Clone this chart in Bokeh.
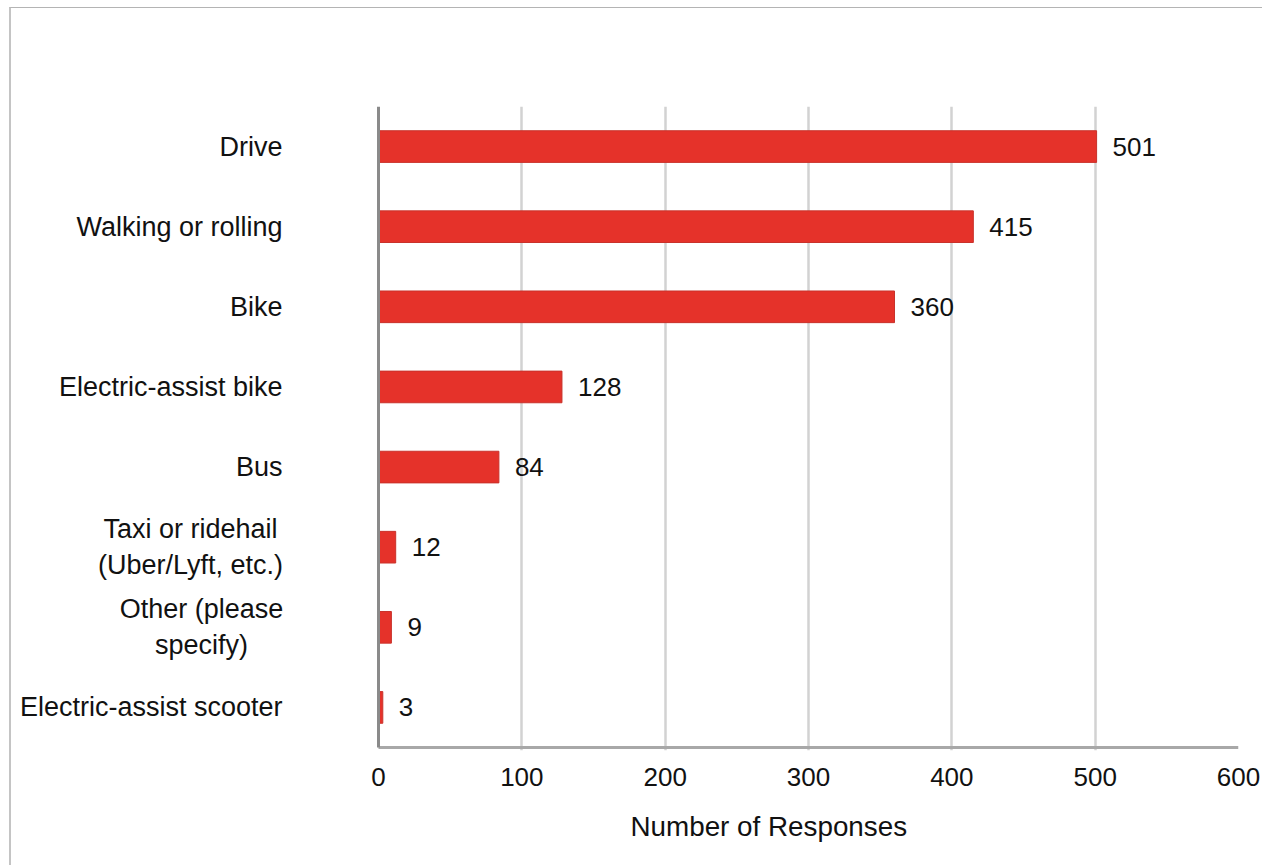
from bokeh.plotting import figure
from bokeh.models import ColumnDataSource, Range1d, FixedTicker, Title
from bokeh.core.properties import value
from bokeh.embed import file_html
from bokeh.resources import INLINE

# Survey responses by travel mode
modes = [
    "Drive",
    "Walking or rolling",
    "Bike",
    "Electric-assist bike",
    "Bus",
    "Taxi or ridehail\n(Uber/Lyft, etc.)",
    "Other (please\nspecify)",
    "Electric-assist scooter",
]
responses = [501, 415, 360, 128, 84, 12, 9, 3]
x_ticks = [0, 100, 200, 300, 400, 500, 600]

FONT = "Liberation Sans"
BAR_RED = "#e5322a"
TEXT = "#111111"

# Layout (pixels): the frame also holds the category-label gutter left of zero
PLOT_W = 860          # width of the 0..600 value scale
GUTTER = 367          # space left of zero for the category names
ROW_H = 80.1          # pixel height of one category row
BOTTOM_PAD = 3        # room below the axis line so it is not clipped
LABEL_GAP = 96        # gap between category names and the zero line

n = len(modes)
x_max = x_ticks[-1]
x_min = -x_max * GUTTER / PLOT_W
y_bottom = n - 0.5
y_pad = BOTTOM_PAD / ROW_H

positions = list(range(n))
src = ColumnDataSource(dict(
    y=positions,
    value=responses,
    text=[str(v) for v in responses],
))

p = figure(
    width=1262, height=857,
    frame_width=PLOT_W + GUTTER, frame_height=int(round(ROW_H * n)) + BOTTOM_PAD,
    min_border_left=0, min_border_right=24,
    min_border_top=98, min_border_bottom=115,
    x_range=Range1d(x_min, x_max),
    y_range=Range1d(y_bottom + y_pad, -0.5),
    y_axis_location=None,
    output_backend="svg", toolbar_location=None,
    margin=(7, 0, 0, 9),
    styles={"border-left": "2px solid #c4c4c4", "border-top": "1px solid #b4b4b4"},
)
p.outline_line_color = None
p.background_fill_color = "white"
p.border_fill_color = "white"

# Vertical gridlines, limited to the value scale
p.xgrid.ticker = FixedTicker(ticks=x_ticks[1:])
p.xgrid.grid_line_color = "#d2d2d2"
p.xgrid.grid_line_width = 2.5
p.ygrid.grid_line_color = None

p.hbar(y="y", left=0, right="value", height=0.395, source=src,
       fill_color=BAR_RED, line_color="#c9322b", line_width=1)

# Axis lines of the value scale
p.segment(x0=[0], y0=[y_bottom], x1=[x_max], y1=[y_bottom],
          line_color="#a8a8a8", line_width=3)
p.segment(x0=[0], y0=[-0.5], x1=[0], y1=[y_bottom],
          line_color="#8a8a8a", line_width=3)

# Value labels at the end of each bar
p.text(x="value", y="y", text="text", source=src, x_offset=16,
       text_baseline="middle", text_align="left",
       text_font=value(FONT), text_font_size="26px", text_color=TEXT)

# Category names: single-line ones right-aligned, wrapped ones centred
wrapped_half_width = {5: 92, 6: 81}
single = [i for i in positions if i not in wrapped_half_width]
p.text(x=[0] * len(single), y=single, text=[modes[i] for i in single],
       x_offset=-LABEL_GAP, text_align="right", text_baseline="middle",
       text_font=value(FONT), text_font_size="27px", text_color=TEXT)
for i, half in wrapped_half_width.items():
    p.text(x=[0], y=[i], text=[modes[i]], x_offset=-(LABEL_GAP + half),
           text_align="center", text_baseline="middle", text_line_height=1.2,
           text_font=value(FONT), text_font_size="27px", text_color=TEXT)

# X axis: tick labels only
p.xaxis.ticker = FixedTicker(ticks=x_ticks)
p.xaxis.major_label_text_font = FONT
p.xaxis.major_label_text_font_size = "26px"
p.xaxis.major_label_text_color = TEXT
p.xaxis.major_label_standoff = 11
p.xaxis.major_tick_line_color = None
p.xaxis.minor_tick_line_color = None
p.xaxis.axis_line_color = None

p.add_layout(Title(
    text="Number of Responses", align="left", offset=619, standoff=40,
    text_font=FONT, text_font_size="27.8px", text_font_style="normal",
    text_color=TEXT,
), "below")

open("out.html", "w").write(file_html(p, INLINE))
